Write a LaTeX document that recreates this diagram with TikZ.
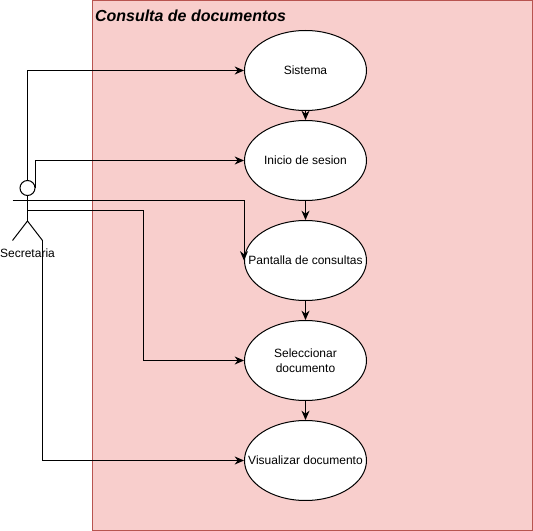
\documentclass[tikz,border=0pt]{standalone}
\usepackage{fontspec}
\setmainfont{Liberation Sans}
\usepackage{tikz}
\usetikzlibrary{positioning,arrows.meta,shapes.geometric}
\definecolor{boxfill}{HTML}{F8CECC}
\definecolor{boxline}{HTML}{B85450}
\tikzset{
    >={Stealth[length=7pt,width=6pt]},
    usecase/.style={
        ellipse,
        draw,
        fill=white,
        align=center,
        inner xsep=-25pt,
        inner ysep=0pt,
        minimum width=91.5pt,
        minimum height=60pt,
        font=\fontsize{9}{11}\selectfont
    },
    link/.style={->, line width=0.75pt}
}

\begin{document}
\begin{tikzpicture}[x=0.75pt, y=-0.75pt, line width=0.75pt]

\useasboundingbox (0,0) rectangle (533,531);

\draw[fill=boxfill, draw=boxline] (92.5,0.5) rectangle (532.5,530.5);
\node[anchor=west, inner sep=0pt, font=\fontsize{12}{14}\selectfont\bfseries\itshape] (title) at (94.5,16) {Consulta de documentos};

\node[usecase] (sistema) at (305.5,70.5) {Sistema};
\node[usecase] (inicio) at (305.5,160.5) {Inicio de sesion};
\node[usecase] (pantalla) at (305.5,260.5) {Pantalla de consultas};
\node[usecase] (seleccionar) at (305.5,360.5) {Seleccionar\\documento};
\node[usecase] (visualizar) at (305.5,460.5) {Visualizar documento};

% actor
\node[circle, draw, inner sep=0pt, minimum size=11.25pt] (head) at (27.5,188) {};
\coordinate (hip) at (27.5,221);
\coordinate (armleft) at (12.5,200.5);
\coordinate (armright) at (42.5,200.5);
\coordinate (footleft) at (12.5,240.5);
\coordinate (footright) at (42.5,240.5);
\coordinate (waist) at (27.5,210.5);
\draw (head.south) -- (hip);
\draw (armleft) -- (armright);
\draw (footleft) -- (hip) -- (footright);
\node[font=\fontsize{9}{11}\selectfont, inner sep=0pt] (secretaria) at (27.5,253) {Secretaria};

\draw[link] (head.north) |- (sistema.west);
\draw[link] (head.east) |- (inicio.west);
\draw[link] (armright) -| (pantalla.west);
\draw[link] (waist) -- (143.5,210.5) |- (seleccionar.west);
\draw[link] (footright) |- (visualizar.west);

\draw[link] (sistema) -- (inicio);
\draw[link] (inicio) -- (pantalla);
\draw[link] (pantalla) -- (seleccionar);
\draw[link] (seleccionar) -- (visualizar);

\end{tikzpicture}
\end{document}
